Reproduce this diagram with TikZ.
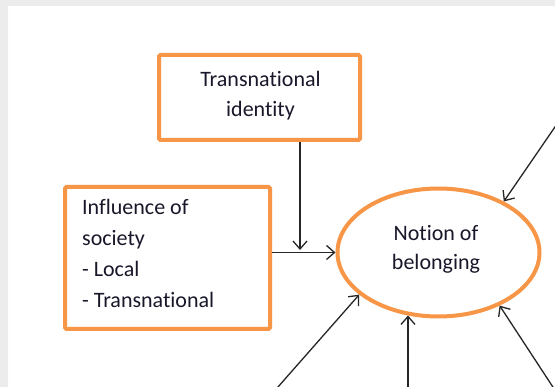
\documentclass[tikz,border=0pt]{standalone}
\usepackage{fontspec}
\setmainfont[Ligatures=NoCommon]{Carlito}
\usetikzlibrary{arrows.meta,shapes.geometric}
\definecolor{accent}{HTML}{F79646}
\definecolor{ink}{HTML}{18182A}
\definecolor{wire}{HTML}{262626}
\definecolor{pagegrey}{HTML}{ECECEC}
\tikzset{
  shapebox/.style={draw=accent, line width=4pt, rectangle, rounded corners=1.5pt, inner sep=0pt},
  shapeoval/.style={draw=accent, line width=4pt, ellipse, inner sep=0pt},
  txt/.style={text=ink, inner sep=0pt, font=\fontsize{22}{30}\selectfont},
  link/.style={draw=wire, line width=1.3pt, -{Straight Barb[length=8pt,width=14pt,line width=1.3pt]}},
}
\begin{document}
\begin{tikzpicture}[x=1pt,y=-1pt]
\useasboundingbox (0,0) rectangle (555,387);
\clip (0,0) rectangle (555,387);
\fill[pagegrey] (0,0) rectangle (555,387);
\fill[white!97!pagegrey] (8,6) rectangle (560,392);
\fill[white] (10,8) rectangle (560,392);

% shapes
\node[shapebox, minimum width=201pt, minimum height=85pt] (ti) at (259.5,97.5) {};
\node[shapebox, minimum width=205pt, minimum height=142pt] (is) at (167.5,258) {};
\node[shapeoval, minimum width=202pt, minimum height=128pt] (nb) at (438.5,252.5) {};

% texts
\node[txt, anchor=base] (tit1) at (260.5,87) {Transnational};
\node[txt, anchor=base] (tit2) at (260.5,117) {identity};
\node[txt, anchor=base west] (ist1) at (82,215) {Influence of};
\node[txt, anchor=base west] (ist2) at (82,246) {society};
\node[txt, anchor=base west] (ist3) at (82,277) {- Local};
\node[txt, anchor=base west] (ist4) at (82,308) {- Transnational};
\node[txt, anchor=base] (nbt1) at (436,241) {Notion of};
\node[txt, anchor=base] (nbt2) at (436,270) {belonging};

% connectors
\coordinate (join) at (300,250);
\coordinate (tr) at (580,90.5);
\coordinate (bl) at (261.6,405.6);
\coordinate (bm) at (408,400);
\coordinate (br) at (569,411.6);

\draw[link] (ti.south -| join) -- (join);
\draw[link] (is.east |- nb.west) -- (nb.west);
\draw[link] (tr) -- (nb.38);
\draw[link] (bl) -- (nb.208);
\draw[link] (bm) -- (bm |- nb.244);
\draw[link] (br) -- (nb.319.5);
\end{tikzpicture}
\end{document}
